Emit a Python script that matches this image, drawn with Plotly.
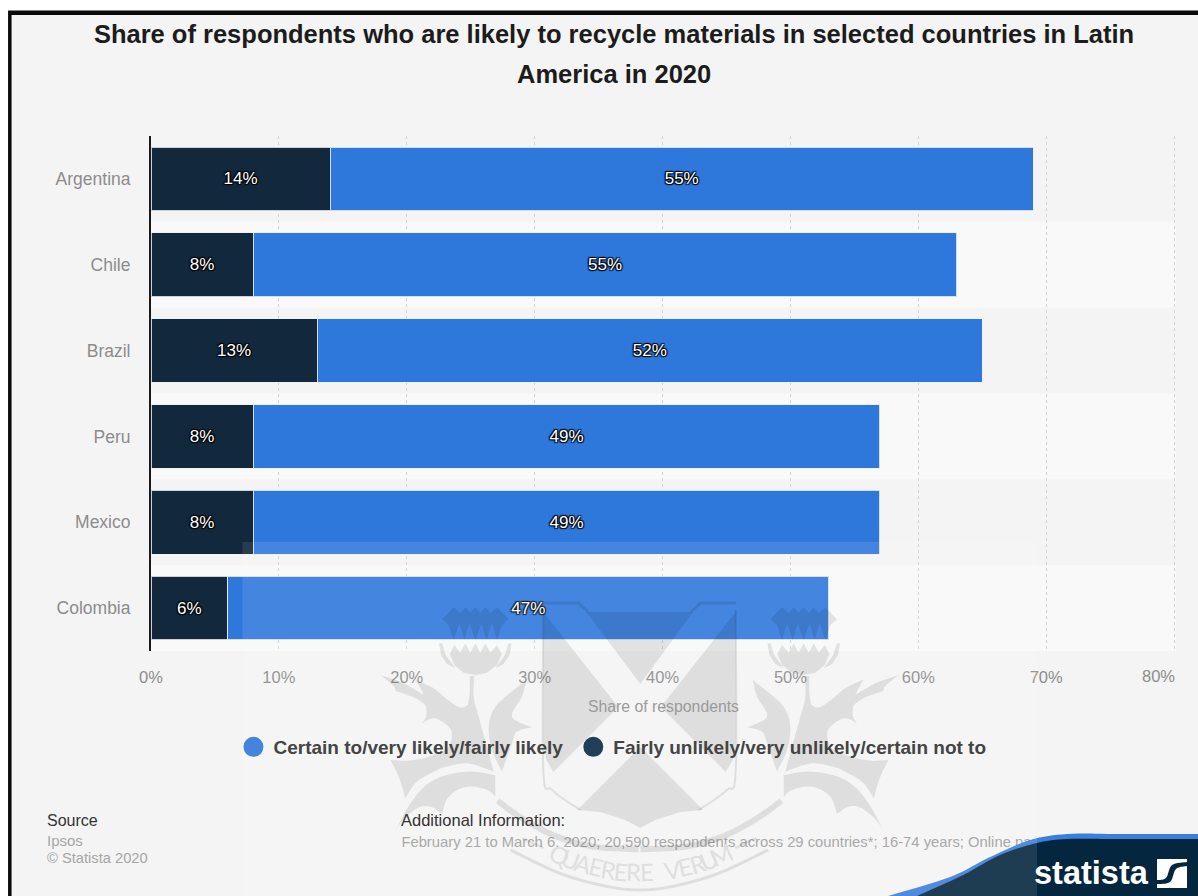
import numpy as np
import plotly.graph_objects as go

countries = ["Argentina", "Chile", "Brazil", "Peru", "Mexico", "Colombia"]
likely = [55, 55, 52, 49, 49, 47]
unlikely = [14, 8, 13, 8, 8, 6]
likely_name = "Certain to/very likely/fairly likely"
unlikely_name = "Fairly unlikely/very unlikely/certain not to"
x_ticks = [0, 10, 20, 30, 40, 50, 60, 70, 80]
motto = "QUAERERE VERUM"
title_lines = ["Share of respondents who are likely to recycle materials in selected countries in Latin",
               "America in 2020"]
info_line = "February 21 to March 6, 2020; 20,590 respondents across 29 countries*; 16-74 years; Online panel"

W, H = 1198, 896
L, R, T, B = 150.5, 1176, 136, 651
FONT = "Liberation Sans, Arial, sans-serif"
BG = "#f4f4f4"
BLUE = "#2e78dc"
NAVY = "#12283c"
CREST = "rgba(0,0,0,0.09)"


def px(x, y):
    """Page pixels to paper coordinates."""
    return (x - L) / (R - L), (B - y) / (B - T)


def poly(points, close=True):
    parts = []
    for i, (x, y) in enumerate(points):
        a, b = px(x, y)
        parts.append(("M" if i == 0 else "L") + f"{a:.5f},{b:.5f}")
    return " ".join(parts) + (" Z" if close else "")


def smooth(points, steps=8):
    """Catmull-Rom curve through the given points."""
    p = [points[0]] + list(points) + [points[-1]]
    out = []
    for i in range(1, len(p) - 2):
        p0, p1, p2, p3 = map(np.array, (p[i - 1], p[i], p[i + 1], p[i + 2]))
        for t in np.linspace(0, 1, steps, endpoint=False):
            out.append(tuple(0.5 * (2 * p1 + (p2 - p0) * t + (2 * p0 - 5 * p1 + 4 * p2 - p3) * t ** 2
                                    + (3 * p1 - p0 - 3 * p2 + p3) * t ** 3)))
    out.append(points[-1])
    return out


def outline(*segments):
    """Curved segments joined at sharp tips."""
    out = []
    for seg in segments:
        out += smooth(seg)
    return out


def rect(x0, y0, x1, y1, color, layer="below"):
    a0, b0 = px(x0, y0)
    a1, b1 = px(x1, y1)
    return dict(type="rect", xref="paper", yref="paper", x0=a0, y0=b0, x1=a1, y1=b1,
                fillcolor=color, line_width=0, layer=layer)


def filled(points, color=CREST):
    return dict(type="path", xref="paper", yref="paper", path=poly(points),
                fillcolor=color, line_width=0, layer="above")


def stroked(points, width, color=CREST):
    return dict(type="path", xref="paper", yref="paper", path=poly(points, close=False),
                line=dict(color=color, width=width), layer="above")


# Thistle for the left half of the crest, on a 3x local grid
def g(pts):
    return [(380 + x / 3, 590 + y / 3) for x, y in pts]


def mirror(pts):
    return [(1278.5 - x, y) for x, y in pts]


crown = [(185, 88), (220, 52), (240, 68), (255, 52), (270, 68), (285, 52), (300, 68), (315, 52), (330, 68),
         (350, 52), (385, 88), (365, 105), (350, 150), (335, 100), (318, 150), (303, 100), (285, 150),
         (267, 100), (252, 150), (237, 100), (220, 150), (205, 105)]
calyx = [(208, 192), (222, 165), (240, 188), (255, 160), (270, 188), (285, 160), (300, 188), (315, 160),
         (330, 188), (350, 165), (364, 192), (350, 225), (320, 248), (285, 255), (250, 248), (222, 225)]
rim_left = [(176, 160), (186, 160), (196, 195), (225, 235), (200, 222), (182, 195)]
rim_right = [(394, 160), (384, 160), (374, 195), (345, 235), (370, 222), (388, 195)]
upper_leaf = outline(
    [(268, 258), (268, 310), (262, 345)],
    [(262, 345), (238, 352), (196, 325)],
    [(196, 325), (160, 295), (105, 268)],
    [(105, 268), (122, 298), (130, 315)],
    [(130, 315), (70, 280), (0, 255)],
    [(0, 255), (40, 288), (45, 303)],
    [(45, 303), (100, 322), (135, 345)],
    [(135, 345), (138, 375), (125, 400)],
    [(125, 400), (165, 385), (212, 420), (205, 470), (170, 490), (130, 505)],
    [(130, 505), (80, 512), (30, 510)],
    [(30, 510), (55, 560), (75, 625)],
    [(75, 625), (110, 575), (180, 535)],
    [(180, 535), (260, 520), (340, 545)],
    [(340, 545), (320, 470), (295, 380), (280, 320), (282, 258)],
)
inner_leaf = outline(
    [(438, 270), (425, 320), (395, 380), (455, 412)],
    [(455, 412), (410, 425), (395, 460), (365, 545)],
    [(365, 545), (335, 480), (325, 410), (345, 350), (400, 300), (438, 270)],
)
lower_leaf = outline(
    [(345, 555), (260, 545), (160, 570), (90, 640), (25, 765)],
    [(25, 765), (60, 700), (110, 655), (150, 650), (185, 672)],
    [(185, 672), (205, 620), (260, 590), (320, 600), (345, 620)],
)
sweep = [(352, 632), (395, 665), (450, 700), (530, 740), (640, 770), (775, 778)]

crest_shapes = []
for part in (crown, calyx, rim_left, rim_right, upper_leaf, inner_leaf, lower_leaf):
    pts = g(part)
    crest_shapes += [filled(pts), filled(mirror(pts))]
sweep_pts = smooth(g(sweep))
crest_shapes += [stroked(sweep_pts, 6), stroked(mirror(sweep_pts), 6)]

# Shield divided by the saltire
side_panel = [(543, 612), (618, 707), (553, 772), (546, 760), (543, 740)]
shoulder = [(543, 603), (578, 603), (588, 612)]
crest_shapes += [
    filled([(586, 612), (693, 612), (640, 684)]),
    filled(side_panel),
    filled(mirror(side_panel)),
    filled([(640, 747), (703, 810), (680, 812), (655, 820), (640, 828), (625, 820), (600, 812), (577, 810)]),
    stroked(shoulder, 3),
    stroked(mirror(shoulder), 3),
    stroked(smooth([(543, 610), (543, 770), (552, 790), (580, 810)]), 2),
    stroked(smooth(mirror([(543, 610), (543, 770), (552, 790), (580, 810)])), 2),
]

# Ring around the motto
ring_outer = smooth([(510, 850), (570, 877), (640, 890), (708, 877), (768, 850)])
crest_shapes += [stroked(ring_outer, 3)]
crest_shapes += [stroked([(522, 838), (543, 848)], 2), stroked([(756, 838), (735, 848)], 2)]

# Footer swoosh and logo
swoosh_top = smooth([(888, 896), (950, 877), (990, 857), (1030, 840), (1067, 834), (1110, 834)])
navy_top = smooth([(917, 896), (963, 875), (1000, 855), (1037, 843), (1067, 839), (1110, 839)])
footer_shapes = [
    filled(swoosh_top + [(W, 834), (W, H), (888, H)], "#3b7fdc"),
    filled(navy_top + [(W, 839), (W, H), (917, H)], "#05263f"),
    filled([(1157, 859), (1187, 859), (1187, 862)] + smooth([(1187, 862), (1172, 865), (1166, 878), (1157, 880)]), "#ffffff"),
    filled(smooth([(1187, 866), (1176, 869), (1170, 882), (1157, 884)]) + [(1157, 888), (1187, 888)], "#ffffff"),
]

# Page frame and alternating rows
row_edges = np.linspace(T, B, len(countries) + 1)
shapes = [rect(7.5, 10.5, W + 2, H + 2, "#0a0a0a"), rect(11, 15, W + 2, H + 2, BG)]
for i in (1, 3, 5):
    shapes.append(rect(L, row_edges[i], R, row_edges[i + 1], "#f9f9f9"))

info_x0, info_y0 = px(398, 832)
info_x1, info_y1 = px(1120, 848)
shapes.append(dict(type="rect", xref="paper", yref="paper", x0=info_x0, y0=info_y0, x1=info_x1, y1=info_y1,
                   line_width=0, fillcolor="rgba(0,0,0,0)", layer="above",
                   label=dict(text=info_line, textposition="middle left", padding=0,
                              font=dict(family=FONT, size=14.8, color="#a0a0a0"))))
shapes += footer_shapes
shapes.append(rect(242, 542, 1037, H + 2, "rgba(255,255,255,0.10)", layer="above"))
shapes += crest_shapes

fig = go.Figure()
halo = "1px 1px 1px #000, -1px -1px 1px #000, 1px -1px 1px #000, -1px 1px 1px #000"
for values, name, color in ((unlikely, unlikely_name, NAVY), (likely, likely_name, BLUE)):
    fig.add_trace(go.Bar(
        y=countries, x=values, orientation="h", name=name, showlegend=False,
        marker=dict(color=color, line=dict(color="rgba(235,240,248,0.85)", width=1)),
        text=[f"{v}%" for v in values], textposition="inside", insidetextanchor="middle",
        textangle=0, constraintext="none",
        textfont=dict(family=FONT, size=17, color="#ffffff", shadow=halo),
    ))

# Round legend keys; these carry no data of their own
for name, color, legend_id in ((likely_name, "#4384dc", "legend"), (unlikely_name, "#223f5a", "legend2")):
    fig.add_trace(go.Scatter(
        x=[None], y=[None], mode="markers", name=name, showlegend=True, legend=legend_id,
        marker=dict(color=color, size=16, symbol="circle", line=dict(color=color, width=4)),
    ))

annotations = []


def note(text, x, y, size, color, anchor="left", bold=False, family=FONT, angle=0):
    a, b = px(x, y)
    annotations.append(dict(
        text=f"<b>{text}</b>" if bold else text, xref="paper", yref="paper", x=a, y=b,
        xanchor=anchor, yanchor="middle", showarrow=False, textangle=angle,
        font=dict(family=family, size=size, color=color),
    ))


note(title_lines[1], 614, 74, 25.5, "#1c1c1c", "center", bold=True)
note("Source", 44, 820, 16, "#333333")
note("Ipsos", 44, 840, 15, "#a6a6a6")
note("© Statista 2020", 44, 858, 14.7, "#a6a6a6")
note("Additional Information:", 399, 820, 16.5, "#333333")
note("statista", 1032, 873, 32.5, "#ffffff", bold=True, family="Liberation Sans Narrow, Liberation Sans, sans-serif")
note(f"{x_ticks[-1]}%", 1158, 676, 16.5, "#8c8c8c", "center")

# Motto letters set along the ring
angles = np.radians(np.linspace(-23.8, 23.8, len(motto)))
for ch, th in zip(motto, angles):
    if ch != " ":
        note(ch, 640 + 201 * np.sin(th), 671 + 201 * np.cos(th), 24, "#dfdfdf", "center",
             family="Lato, sans-serif", angle=-np.degrees(th))


def legend_at(x):
    return dict(orientation="h", x=px(x, 0)[0], xanchor="left", y=px(0, 747)[1], yanchor="middle",
                bgcolor="rgba(0,0,0,0)", font=dict(family=FONT, size=19, color="#444444", weight="bold"),
                itemclick=False, itemdoubleclick=False)


tick_text = [f"{v}%" for v in x_ticks[:-1]] + [" "]
fig.update_layout(
    width=W, height=H, autosize=False,
    margin=dict(l=L, r=W - R, t=T, b=H - B, pad=0, autoexpand=False),
    paper_bgcolor="#ffffff", plot_bgcolor="rgba(0,0,0,0)",
    barmode="stack", bargap=0.258,
    title=dict(text=f"<b>{title_lines[0]}</b>", x=614 / W, y=1 - 34 / H, xref="container", yref="container",
               xanchor="center", yanchor="middle", font=dict(family=FONT, size=25.5, color="#1c1c1c")),
    xaxis=dict(range=[0, 80.15], tickvals=x_ticks, ticktext=tick_text, ticks="", showline=False,
               showgrid=True, griddash="dot", gridcolor="#d2d2d2", gridwidth=1, zeroline=False,
               tickfont=dict(family=FONT, size=16.5, color="#8c8c8c"), ticklabelstandoff=14,
               title=dict(text="Share of respondents", standoff=16, font=dict(family=FONT, size=15.8, color="#9a9a9a"))),
    yaxis=dict(categoryorder="array", categoryarray=countries, autorange="reversed", ticks="", showgrid=False,
               showline=True, linecolor="#1a1a1a", linewidth=2, zeroline=False, ticklabelstandoff=15,
               tickfont=dict(family=FONT, size=17.5, color="#8c8c8c")),
    legend=legend_at(233),
    legend2=legend_at(573),
    shapes=shapes, annotations=annotations, showlegend=True,
)

fig.write_html("out.html")
